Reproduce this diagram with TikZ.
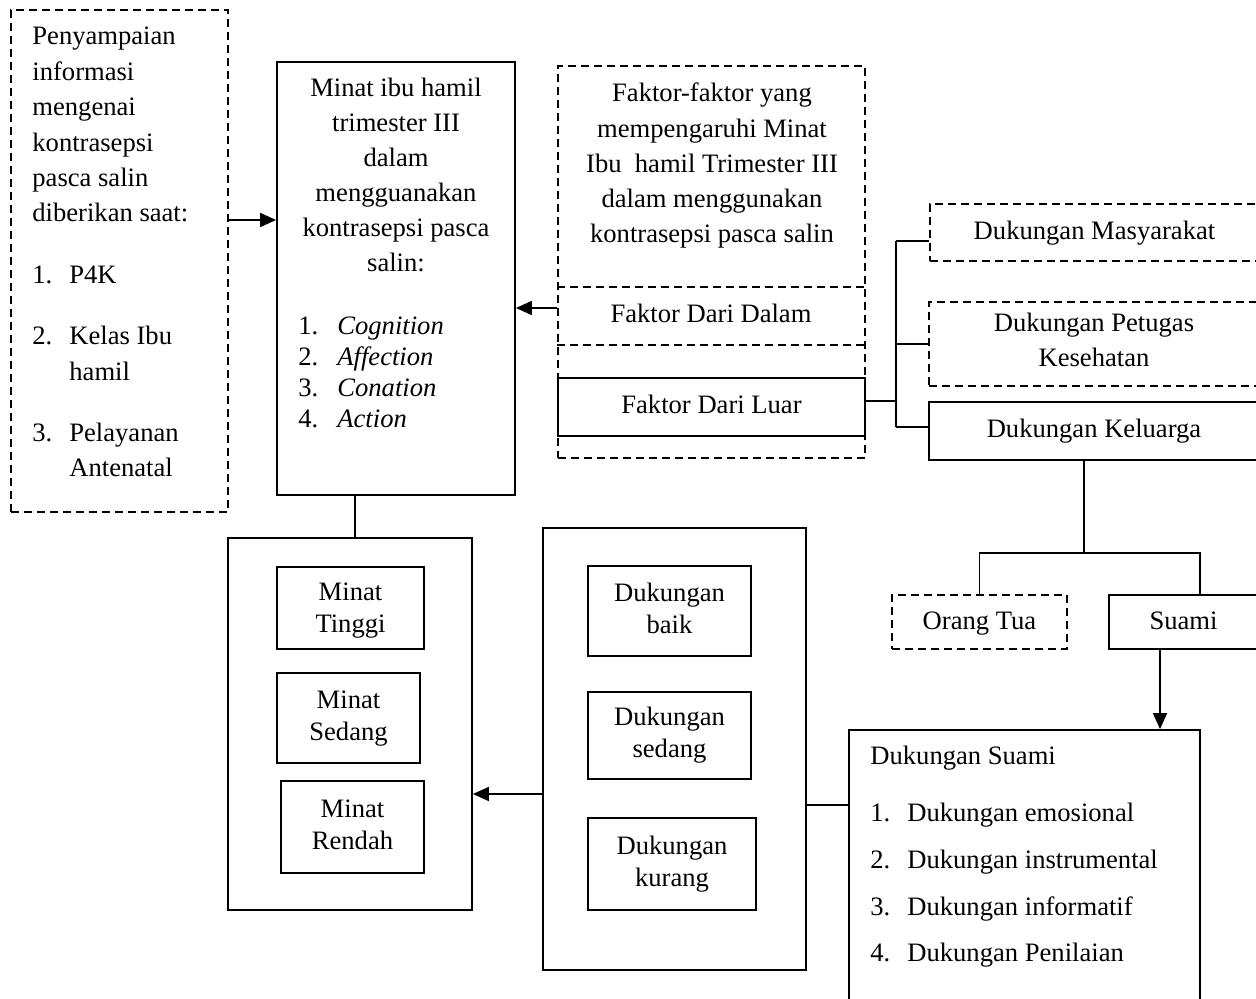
\documentclass[tikz,border=0pt]{standalone}
\usepackage{fontspec}
\setmainfont{Liberation Serif}
\usetikzlibrary{arrows.meta,fit,calc}
\begin{document}
\begin{tikzpicture}[x=0.5pt,y=-0.5pt,
  every node/.style={font=\fontsize{13.3pt}{17.5pt}\selectfont},
  box/.style={draw, line width=0.9pt, inner sep=0pt, rectangle},
  dbox/.style={box, dash pattern=on 4pt off 2.5pt},
  txt/.style={inner sep=0pt},
  conn/.style={line width=0.9pt},
  dline/.style={line width=0.9pt, dash pattern=on 4pt off 2.5pt},
  arr/.style={conn, -{Triangle[length=8pt,width=7pt]}},
  small/.style={font=\fontsize{13.3pt}{16pt}\selectfont}
]
\clip (0,0) rectangle (1256,999);

% left information box
\node[dbox, fit={(11,10) (228,512)}] (lb) {};
\node[txt, anchor=base west, font=\fontsize{13.3pt}{17.7pt}\selectfont] (lbt) at (32,45)
 {\begin{tabular}[t]{@{}l@{}}Penyampaian\\ informasi\\ mengenai\\ kontrasepsi\\ pasca salin\\ diberikan saat:\\[13pt]
 \makebox[18.5pt][l]{1.}P4K\\[13pt]
 \makebox[18.5pt][l]{2.}Kelas Ibu\\ \hspace*{18.5pt}hamil\\[13pt]
 \makebox[18.5pt][l]{3.}Pelayanan\\ \hspace*{18.5pt}Antenatal\end{tabular}};

% middle box
\node[box, fit={(277,62) (515,495)}] (mid) {};
\node[txt, anchor=base, font=\fontsize{13.3pt}{17.5pt}\selectfont] (midt) at (396,97)
 {\begin{tabular}[t]{@{}c@{}}Minat ibu hamil\\ trimester III\\ dalam\\ mengguanakan\\ kontrasepsi pasca\\ salin:\end{tabular}};
\node[txt, anchor=base west, font=\fontsize{13.3pt}{15.4pt}\selectfont] (midl) at (298,335)
 {\begin{tabular}[t]{@{}l@{}}\makebox[19.5pt][l]{1.}\textit{Cognition}\\ \makebox[19.5pt][l]{2.}\textit{Affection}\\ \makebox[19.5pt][l]{3.}\textit{Conation}\\ \makebox[19.5pt][l]{4.}\textit{Action}\end{tabular}};

% factor box
\node[dbox, fit={(558,66) (865,458)}] (fo) {};
\node[txt, anchor=base, font=\fontsize{13.3pt}{17.6pt}\selectfont] (fot) at (712,102)
 {\begin{tabular}[t]{@{}c@{}}Faktor-faktor yang\\ mempengaruhi Minat\\ Ibu~ hamil Trimester III\\ dalam menggunakan\\ kontrasepsi pasca salin\end{tabular}};
\draw[dline] (fo.west |- 0,287) -- (fo.east |- 0,287);
\draw[dline] (fo.west |- 0,345) -- (fo.east |- 0,345);
\node[txt, anchor=base] (fddt) at (711,323) {Faktor Dari Dalam};
\node[box, fit={(558,378) (865,436)}] (fdl) {};
\node[txt] (fdlt) at (fdl.center) {\begin{tabular}{@{}c@{}}Faktor Dari Luar\end{tabular}};

% right support boxes
\node[dbox, fit={(930,204) (1259,261)}] (dm) {};
\node[txt] (dmt) at (dm.center) {\begin{tabular}{@{}c@{}}Dukungan Masyarakat\end{tabular}};
\node[dbox, fit={(929,302) (1259,386)}] (dp) {};
\node[txt] (dpt) at ([yshift=1pt]dp.center) {\begin{tabular}{@{}c@{}}Dukungan Petugas\\ Kesehatan\end{tabular}};
\node[box, fit={(929,402) (1259,460)}] (dk) {};
\node[txt] (dkt) at (dk.center) {\begin{tabular}{@{}c@{}}Dukungan Keluarga\end{tabular}};
\node[dbox, fit={(892,595) (1067,649)}] (ot) {};
\node[txt] (ott) at (ot.center) {\begin{tabular}{@{}c@{}}Orang Tua\end{tabular}};
\node[box, fit={(1109,595) (1258,649)}] (su) {};
\node[txt] (sut) at (su.center) {\begin{tabular}{@{}c@{}}Suami\end{tabular}};

% husband support box
\node[box, fit={(849,730) (1200,1010)}] (ds) {};
\node[txt, anchor=base west, font=\fontsize{13.3pt}{23.4pt}\selectfont] (dst) at (870,764)
 {\begin{tabular}[t]{@{}l@{}}Dukungan Suami\\[5.3pt]
 \makebox[18.5pt][l]{1.}Dukungan emosional\\
 \makebox[18.5pt][l]{2.}Dukungan instrumental\\
 \makebox[18.5pt][l]{3.}Dukungan informatif\\
 \makebox[18.5pt][l]{4.}Dukungan Penilaian\end{tabular}};

% interest levels
\node[box, fit={(228,538) (472,910)}] (mo) {};
\node[box, fit={(277,567) (424,649)}] (mt) {};
\node[txt, small] (mtt) at ([yshift=-1pt]mt.center) {\begin{tabular}{@{}c@{}}Minat\\ Tinggi\end{tabular}};
\node[box, fit={(277,673) (420,763)}] (ms) {};
\node[txt, small] (mst) at (ms.center) {\begin{tabular}{@{}c@{}}Minat\\ Sedang\end{tabular}};
\node[box, fit={(281,781) (424,873)}] (mr) {};
\node[txt, small] (mrt) at (mr.center) {\begin{tabular}{@{}c@{}}Minat\\ Rendah\end{tabular}};

% support levels
\node[box, fit={(543,528) (806,970)}] (do) {};
\node[box, fit={(588,566) (751,656)}] (db) {};
\node[txt, small] (dbt) at (db.center) {\begin{tabular}{@{}c@{}}Dukungan\\ baik\end{tabular}};
\node[box, fit={(588,692) (751,779)}] (dsd) {};
\node[txt, small] (dsdt) at (dsd.center) {\begin{tabular}{@{}c@{}}Dukungan\\ sedang\end{tabular}};
\node[box, fit={(588,818) (756,910)}] (dku) {};
\node[txt, small] (dkut) at (dku.center) {\begin{tabular}{@{}c@{}}Dukungan\\ kurang\end{tabular}};

% connectors
\coordinate (la) at (lb.east |- 0,220);
\draw[arr] (la) -- (la -| mid.west);
\coordinate (fa) at (fo.west |- 0,308);
\draw[arr] (fa) -- (fa -| mid.east);

\coordinate (lx) at (fdl.east |- 0,401);
\coordinate (b1) at (896,241);
\coordinate (b3) at (896,427);
\draw[conn] (lx) -- (lx -| b1);
\draw[conn] (b1) -- (b3);
\draw[conn] (b1) -- (b1 -| dm.west);
\draw[conn] (dp.west) -- (dp.west -| b1);
\draw[conn] (b3) -- (b3 -| dk.west);

\coordinate (kt) at (dk.south -| 1084,0);
\coordinate (kb) at (1084,553);
\draw[conn] (kt) -- (kb);
\coordinate (sb) at (1200,553);
\draw[conn] (ot.north) |- (sb) -- (sb |- su.north);
\coordinate (sa) at (su.south -| 1160,0);
\draw[arr] (sa) -- (sa |- ds.north);

\coordinate (mc) at (mid.south -| 355,0);
\draw[conn] (mc) -- (mc |- mo.north);
\coordinate (da) at (do.west |- 0,794);
\draw[arr] (da) -- (da -| mo.east);
\coordinate (dc) at (do.east |- 0,805);
\draw[conn] (dc) -- (dc -| ds.west);
\end{tikzpicture}
\end{document}
